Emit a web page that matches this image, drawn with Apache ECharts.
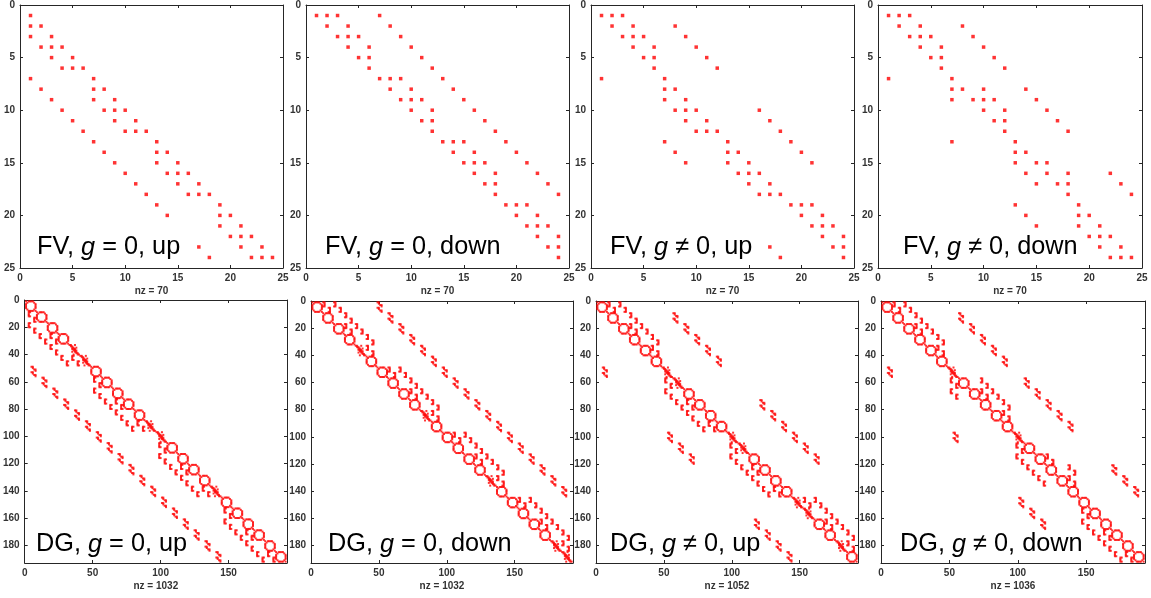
<!DOCTYPE html>
<html>
<head>
<meta charset="utf-8">
<title>Sparsity patterns</title>
<script src="https://cdn.jsdelivr.net/npm/echarts@6/dist/echarts.min.js"></script>
<style>
    html, body { margin: 0; padding: 0; background: #fff; }
    #chart { width: 1151px; height: 598px; filter: blur(0.3px); }
</style>
</head>
<body>
<div id="chart"></div>
<script>
// entries as [column, row]
const fvZeroUp = [
    [1,1],[1,2],[2,2],[1,3],[3,3],[2,4],[3,4],[4,4],[3,5],[5,5],[4,6],[5,6],[6,6],
    [1,7],[7,7],[2,8],[7,8],[8,8],[3,9],[7,9],[9,9],[4,10],[8,10],[9,10],[10,10],[5,11],[9,11],[11,11],[6,12],[10,12],[11,12],[12,12],
    [7,13],[13,13],[8,14],[13,14],[14,14],[9,15],[13,15],[15,15],[10,16],[14,16],[15,16],[16,16],[11,17],[15,17],[17,17],[12,18],[16,18],[17,18],[18,18],
    [13,19],[19,19],[14,20],[19,20],[20,20],[15,21],[19,21],[21,21],[16,22],[20,22],[21,22],[22,22],[17,23],[21,23],[23,23],[18,24],[22,24],[23,24],[24,24]
]
const fvZeroDown = [
    [1,1],[2,1],[3,1],[7,1],[2,2],[4,2],[8,2],[3,3],[4,3],[5,3],[9,3],[4,4],[6,4],[10,4],[5,5],[6,5],[11,5],[6,6],[12,6],
    [7,7],[8,7],[9,7],[13,7],[8,8],[10,8],[14,8],[9,9],[10,9],[11,9],[15,9],[10,10],[12,10],[16,10],[11,11],[12,11],[17,11],[12,12],[18,12],
    [13,13],[14,13],[15,13],[19,13],[14,14],[16,14],[20,14],[15,15],[16,15],[17,15],[21,15],[16,16],[18,16],[22,16],[17,17],[18,17],[23,17],[18,18],[24,18],
    [19,19],[20,19],[21,19],[20,20],[22,20],[21,21],[22,21],[23,21],[22,22],[24,22],[23,23],[24,23],[24,24]
]
const fvNonzeroUp = [
    [1,1],[2,1],[3,1],[2,2],[4,2],[8,2],[3,3],[4,3],[5,3],[9,3],[4,4],[6,4],[10,4],[5,5],[6,5],[11,5],[6,6],[12,6],
    [1,7],[7,7],[7,8],[8,8],[7,9],[9,9],[8,10],[9,10],[10,10],[16,10],[9,11],[11,11],[17,11],[10,12],[11,12],[12,12],[18,12],
    [7,13],[13,13],[19,13],[8,14],[13,14],[14,14],[20,14],[9,15],[13,15],[15,15],[21,15],[14,16],[15,16],[16,16],[15,17],[17,17],[16,18],[17,18],[18,18],
    [19,19],[20,19],[21,19],[20,20],[22,20],[15,21],[21,21],[22,21],[23,21],[16,22],[22,22],[24,22],[17,23],[23,23],[24,23],[18,24],[24,24]
]
const fvNonzeroDown = [
    [1,1],[2,1],[3,1],[2,2],[4,2],[8,2],[3,3],[4,3],[5,3],[9,3],[4,4],[6,4],[10,4],[5,5],[6,5],[11,5],[6,6],[12,6],
    [1,7],[7,7],[7,8],[8,8],[10,8],[14,8],[7,9],[9,9],[10,9],[11,9],[15,9],[10,10],[12,10],[16,10],[11,11],[12,11],[17,11],[12,12],[18,12],
    [7,13],[13,13],[13,14],[14,14],[13,15],[15,15],[16,15],[14,16],[16,16],[18,16],[22,16],[15,17],[17,17],[18,17],[23,17],[18,18],[24,18],
    [13,19],[19,19],[14,20],[19,20],[20,20],[15,21],[19,21],[21,21],[20,22],[21,22],[22,22],[21,23],[23,23],[22,24],[23,24],[24,24]
]

// each FV entry is an 8x8 block in the DG panels, same block layout as the panel above.
// dots inside a block can't be resolved at this size, these are what the zooms look like
const dgRing = [
    [1,1],[3,1],[4,1],[5,1],[6,1],[2,2],[7,2],[1,3],[8,3],[1,4],[8,4],
    [1,5],[8,5],[1,6],[8,6],[2,7],[7,7],[3,8],[4,8],[5,8],[6,8],[8,8]
]
const dgBand = [
    [1,1],[2,1],[5,1],[2,2],[3,2],[3,3],[4,3],[6,3],[3,4],[4,4],[5,4],
    [4,5],[5,5],[6,5],[3,6],[5,6],[6,6],[6,7],[7,7],[4,8],[7,8],[8,8]
]
const dgNearLower = [
    [4,1],[3,1],[3,2],[3,3],[3,4],[4,4],[8,5],[7,5],[7,6],[7,7],[7,8],[8,8]
]
const dgNearUpper = [
    [1,1],[2,1],[2,2],[2,3],[2,4],[1,4],[5,5],[6,5],[6,6],[6,7],[6,8],[5,8]
]
const dgFarLower = [
    [5,1],[6,1],[6,2],[7,3],[8,3],[8,4],[5,5],[6,5],[6,6],[7,7],[8,7],[8,8]
]
const dgFarUpper = [
    [1,1],[2,1],[2,2],[3,3],[4,3],[4,4],[1,5],[2,5],[2,6],[3,7],[4,7],[4,8]
]

// diagonal blocks that look like a broken band and not a ring, per DG panel
const bandZeroUp = [5, 6, 12, 13, 18]
const bandZeroDown = [5, 11, 17, 23, 24]
const bandNonzeroUp = [7, 8, 13, 14, 19, 20, 23]
const bandNonzeroDown = [7, 13]

const fvTicks = [0, 5, 10, 15, 20, 25]
const dgXTicks = [0, 50, 100, 150]
const dgYTicks = [0, 20, 40, 60, 80, 100, 120, 140, 160, 180]

const FV_MAX = 25
const DG_MAX = 193

const expandBlocks = (entries, bandBlocks) => {
    let points = []
    entries.forEach(([col, row]) => {
        let cell
        if (col === row) {
            cell = bandBlocks.includes(col) ? dgBand : dgRing
        } else if (col < row) {
            cell = row - col >= 6 ? dgFarLower : dgNearLower
        } else {
            cell = col - row >= 6 ? dgFarUpper : dgNearUpper
        }
        cell.forEach(([dx, dy]) => {
            points.push([8 * (col - 1) + dx, 8 * (row - 1) + dy])
        })
    })
    return points
}

const panels = [
    {data: fvZeroUp, max: FV_MAX, size: 3.5, xTicks: fvTicks, yTicks: fvTicks, nz: 'nz = 70', box: [20, 5, 263, 263],
        head: 'FV, ', tail: ' = 0, up', textAt: [37, 235], cover: true},
    {data: fvZeroDown, max: FV_MAX, size: 3.5, xTicks: fvTicks, yTicks: fvTicks, nz: 'nz = 70', box: [306, 5, 263, 263],
        head: 'FV, ', tail: ' = 0, down', textAt: [325, 235]},
    {data: fvNonzeroUp, max: FV_MAX, size: 3.5, xTicks: fvTicks, yTicks: fvTicks, nz: 'nz = 70', box: [591, 5, 263, 263],
        head: 'FV, ', tail: ' \u2260 0, up', textAt: [610, 235], cover: true},
    {data: fvNonzeroDown, max: FV_MAX, size: 3.5, xTicks: fvTicks, yTicks: fvTicks, nz: 'nz = 70', box: [878, 5, 264, 263],
        head: 'FV, ', tail: ' \u2260 0, down', textAt: [903, 235]},
    {data: expandBlocks(fvZeroUp, bandZeroUp), max: DG_MAX, size: 2, xTicks: dgXTicks, yTicks: dgYTicks, nz: 'nz = 1032', box: [24, 300, 263, 263],
        head: 'DG, ', tail: ' = 0, up', textAt: [36, 532]},
    {data: expandBlocks(fvZeroDown, bandZeroDown), max: DG_MAX, size: 2, xTicks: dgXTicks, yTicks: dgYTicks, nz: 'nz = 1032', box: [311, 301, 262, 262],
        head: 'DG, ', tail: ' = 0, down', textAt: [328, 532]},
    {data: expandBlocks(fvNonzeroUp, bandNonzeroUp), max: DG_MAX, size: 2, xTicks: dgXTicks, yTicks: dgYTicks, nz: 'nz = 1052', box: [596, 301, 262, 262],
        head: 'DG, ', tail: ' \u2260 0, up', textAt: [610, 532]},
    {data: expandBlocks(fvNonzeroDown, bandNonzeroDown), max: DG_MAX, size: 2, xTicks: dgXTicks, yTicks: dgYTicks, nz: 'nz = 1036', box: [881, 301, 264, 262],
        head: 'DG, ', tail: ' \u2260 0, down', textAt: [900, 532]}
]

const INK = '#262626'
const labelStyle = {color: '#333', fontSize: 10, fontWeight: 'bold', fontFamily: 'Liberation Sans'}
const bigText = {fontSize: 25.3, fontWeight: 'normal', color: '#000', fontFamily: 'Liberation Sans'}
const COVER_TOP = 13

const makeAxis = (panel, index, position, ticks, labelled) => {
    return {
        type: 'value',
        gridIndex: index,
        position: position,
        min: 0,
        max: panel.max,
        inverse: position === 'left' || position === 'right',
        axisLine: {show: true, onZero: false, lineStyle: {color: INK, width: 1}},
        axisTick: {show: true, inside: true, length: 3, customValues: ticks, lineStyle: {color: INK, width: 1}},
        axisLabel: {show: labelled, customValues: ticks, margin: 5, hideOverlap: false, ...labelStyle},
        splitLine: {show: false}
    }
}

let grid = [], xAxis = [], yAxis = [], series = [], title = []
panels.forEach((panel, i) => {
    const [left, top, width, height] = panel.box
    grid.push({left, top, width, height, containLabel: false})

    let bottomAxis = makeAxis(panel, i, 'bottom', panel.xTicks, true)
    bottomAxis.name = panel.nz
    bottomAxis.nameLocation = 'middle'
    bottomAxis.nameGap = 18
    bottomAxis.nameTextStyle = labelStyle
    xAxis.push(bottomAxis, makeAxis(panel, i, 'top', panel.xTicks, false))
    yAxis.push(makeAxis(panel, i, 'left', panel.yTicks, true), makeAxis(panel, i, 'right', panel.yTicks, false))

    series.push({
        type: 'scatter',
        xAxisIndex: i * 2,
        yAxisIndex: i * 2,
        data: panel.data,
        symbol: 'rect',
        symbolSize: panel.size,
        itemStyle: {color: '#f00'},
        silent: true
    })

    // in the FV up panels the label hides two entries, so it needs its white box there
    title.push({
        left: panel.textAt[0],
        top: panel.cover ? panel.textAt[1] - COVER_TOP : panel.textAt[1],
        padding: panel.cover ? [COVER_TOP, 12, 0, 0] : 0,
        backgroundColor: panel.cover ? '#fff' : 'transparent',
        text: '{a|' + panel.head + '}{g|g}{a|' + panel.tail + '}',
        textStyle: {
            rich: {
                a: {...bigText},
                g: {...bigText, fontStyle: 'italic'}
            }
        }
    })
})

let chart = echarts.init(document.getElementById('chart'))
chart.setOption({
    animation: false,
    backgroundColor: '#fff',
    title: title,
    grid: grid,
    xAxis: xAxis,
    yAxis: yAxis,
    series: series
})
</script>
</body>
</html>
